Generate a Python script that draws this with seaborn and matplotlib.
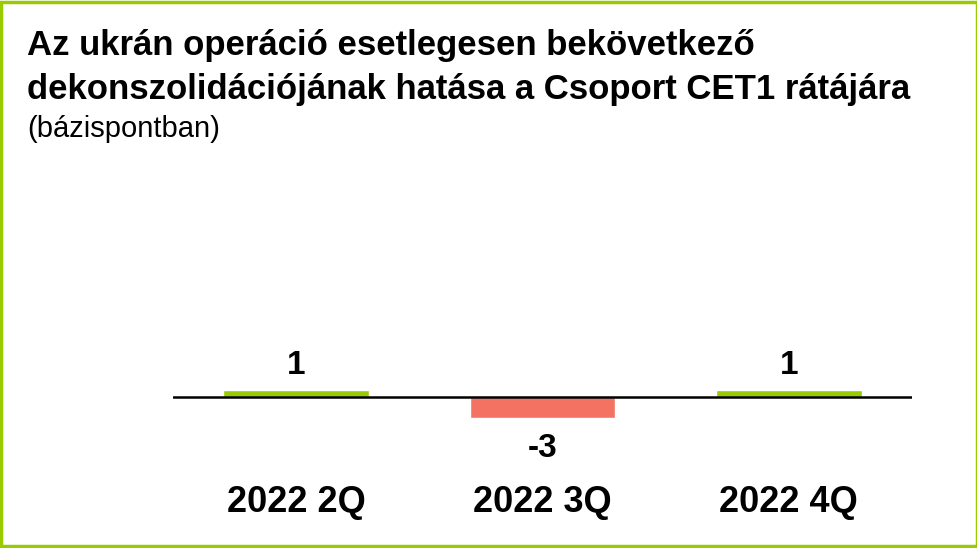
import matplotlib
matplotlib.use("Agg")
import matplotlib.pyplot as plt
import seaborn as sns
import pandas as pd
from matplotlib.patches import Rectangle

# data
quarters = ["2022 2Q", "2022 3Q", "2022 4Q"]
values = [1, -3, 1]
bar_colors = ["#99CC00", "#F47262", "#99CC00"]

title_1 = "Az ukrán operáció esetlegesen bekövetkező"
title_2 = "dekonszolidációjának hatása a Csoport CET1 rátájára"
subtitle = "(bázispontban)"

sns.set_theme(style="white")
plt.rcParams['font.family'] = ['Liberation Sans', 'DejaVu Sans']
plt.rcParams['text.color'] = 'black'

df = pd.DataFrame({"quarter": quarters, "value": values})

fig = plt.figure(figsize=(9.78, 5.48), dpi=100)
W, H = 978, 548
# axes: x 173..912 px, y 299..460 px (zero line at ~397)
ax = fig.add_axes([173 / W, 1 - 460 / H, (912 - 173) / W, (460 - 299) / H])

sns.barplot(data=df, x="quarter", y="value", hue="quarter",
            palette=dict(zip(quarters, bar_colors)), width=0.59,
            legend=False, ax=ax, saturation=1)

ax.set_xlim(-0.5, 2.5)
ax.set_ylim(-9, 14)
ax.axhline(0, color="black", lw=1.8, zorder=5)

for i, v in enumerate(values):
    if v >= 0:
        ax.text(i, v + 1.3, str(v), ha="center", va="bottom",
                fontsize=24, fontweight="bold", color="black")
    else:
        ax.text(i, v - 2.1, str(v), ha="center", va="top",
                fontsize=24, fontweight="bold", color="black")

ax.set_xticks([])
ax.set_xlabel("")
ax.set_ylabel("")
ax.set_yticks([])
sns.despine(ax=ax, left=True, bottom=True)

# category labels below
for i, q in enumerate(quarters):
    x_fig = (173 + (i + 0.5) * (912 - 173) / 3) / W
    fig.text(x_fig, 1 - 502 / H, q, ha="center", va="center",
             fontsize=26, fontweight="bold", color="black")

fig.text(27 / W, 1 - 46 / H, title_1, ha="left", va="center",
         fontsize=25, fontweight="bold", color="black")
fig.text(27 / W, 1 - 89 / H, title_2, ha="left", va="center",
         fontsize=25, fontweight="bold", color="black")
fig.text(27 / W, 1 - 129 / H, subtitle, ha="left", va="center",
         fontsize=21, color="black")

# green frame
fig.patches.append(Rectangle((0.0015, 0.003), 0.997, 0.994, transform=fig.transFigure,
                             fill=False, edgecolor="#99CC00", lw=2.5))

fig.savefig("out.png", dpi=100)
